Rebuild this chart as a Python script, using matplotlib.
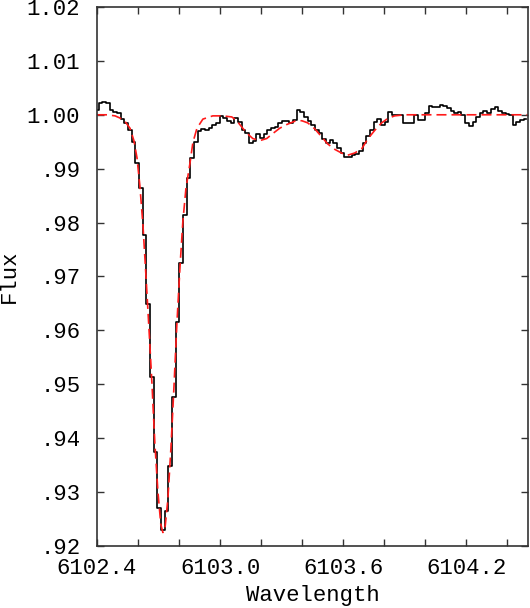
import matplotlib
matplotlib.use("Agg")
import matplotlib.pyplot as plt
from matplotlib.ticker import MultipleLocator

plt.rcParams['font.family'] = ['Liberation Mono', 'DejaVu Sans Mono']

# observed spectrum (bin centres, Angstrom) and normalised flux
wave = [6102.399, 6102.417, 6102.435, 6102.453, 6102.471, 6102.489, 6102.506, 6102.524,
        6102.542, 6102.560, 6102.578, 6102.596, 6102.614, 6102.631, 6102.649, 6102.667,
        6102.685, 6102.703, 6102.721, 6102.739, 6102.756, 6102.774, 6102.792, 6102.810,
        6102.828, 6102.846, 6102.864, 6102.881, 6102.899, 6102.917, 6102.935, 6102.953,
        6102.971, 6102.989, 6103.006, 6103.024, 6103.042, 6103.060, 6103.078, 6103.096,
        6103.114, 6103.131, 6103.149, 6103.167, 6103.185, 6103.203, 6103.221, 6103.239,
        6103.257, 6103.274, 6103.292, 6103.310, 6103.328, 6103.346, 6103.364, 6103.382,
        6103.399, 6103.417, 6103.435, 6103.453, 6103.471, 6103.489, 6103.507, 6103.524,
        6103.542, 6103.560, 6103.578, 6103.596, 6103.614, 6103.632, 6103.649, 6103.667,
        6103.685, 6103.703, 6103.721, 6103.739, 6103.757, 6103.774, 6103.792, 6103.810,
        6103.828, 6103.846, 6103.864, 6103.882, 6103.899, 6103.917, 6103.935, 6103.953,
        6103.971, 6103.989, 6104.007, 6104.024, 6104.042, 6104.060, 6104.078, 6104.096,
        6104.114, 6104.132, 6104.149, 6104.167, 6104.185, 6104.203, 6104.221, 6104.239,
        6104.257, 6104.274, 6104.292, 6104.310, 6104.328, 6104.346, 6104.364, 6104.382,
        6104.400, 6104.417, 6104.435, 6104.453, 6104.471, 6104.489]
flux = [1.0009, 1.0021, 1.0024, 1.0022, 1.0009, 1.0005, 1.0003, 0.9993,
        0.9984, 0.9972, 0.9950, 0.9910, 0.9864, 0.9777, 0.9649, 0.9514,
        0.9375, 0.9270, 0.9230, 0.9265, 0.9349, 0.9476, 0.9616, 0.9725,
        0.9814, 0.9882, 0.9919, 0.9950, 0.9969, 0.9973, 0.9971, 0.9975,
        0.9981, 0.9985, 0.9997, 0.9994, 0.9988, 0.9985, 0.9994, 0.9986,
        0.9972, 0.9966, 0.9948, 0.9951, 0.9964, 0.9957, 0.9964, 0.9971,
        0.9975, 0.9978, 0.9985, 0.9989, 0.9989, 0.9985, 0.9990, 1.0009,
        1.0005, 0.9995, 0.9988, 0.9981, 0.9971, 0.9966, 0.9956, 0.9948,
        0.9953, 0.9947, 0.9938, 0.9930, 0.9922, 0.9921, 0.9925, 0.9928,
        0.9933, 0.9947, 0.9960, 0.9972, 0.9987, 0.9992, 0.9981, 0.9987,
        1.0006, 1.0000, 0.9999, 0.9999, 0.9984, 0.9984, 0.9984, 1.0000,
        0.9990, 0.9990, 1.0003, 1.0016, 1.0014, 1.0014, 1.0018, 1.0016,
        1.0012, 1.0007, 1.0003, 1.0006, 0.9999, 0.9984, 0.9979, 0.9987,
        0.9995, 1.0003, 1.0007, 1.0003, 1.0010, 1.0014, 1.0007, 1.0003,
        1.0001, 0.9999, 0.9981, 0.9987, 0.9990, 0.9992]

# synthetic fit (red dashed)
model_wave = [6102.400, 6102.449, 6102.488, 6102.512, 6102.536, 6102.561, 6102.580, 6102.595,
              6102.609, 6102.624, 6102.638, 6102.653, 6102.668, 6102.682, 6102.697, 6102.711,
              6102.721, 6102.731, 6102.745, 6102.760, 6102.775, 6102.789, 6102.804, 6102.818,
              6102.833, 6102.853, 6102.867, 6102.887, 6102.916, 6102.964, 6103.013, 6103.057,
              6103.081, 6103.106, 6103.130, 6103.159, 6103.193, 6103.227, 6103.256, 6103.290,
              6103.325, 6103.363, 6103.398, 6103.427, 6103.461, 6103.495, 6103.524, 6103.558,
              6103.592, 6103.621, 6103.655, 6103.690, 6103.719, 6103.753, 6103.787, 6103.816,
              6103.850, 6103.899, 6104.497]
model_flux = [1.0000, 1.0000, 0.9998, 0.9994, 0.9988, 0.9975, 0.9952, 0.9920,
              0.9868, 0.9795, 0.9705, 0.9605, 0.9500, 0.9390, 0.9300, 0.9240,
              0.9225, 0.9232, 0.9285, 0.9380, 0.9495, 0.9610, 0.9715, 0.9800,
              0.9862, 0.9910, 0.9948, 0.9975, 0.9992, 0.9998, 0.9998, 0.9996,
              0.9989, 0.9977, 0.9966, 0.9956, 0.9952, 0.9956, 0.9965, 0.9975,
              0.9982, 0.9988, 0.9989, 0.9985, 0.9974, 0.9959, 0.9946, 0.9936,
              0.9929, 0.9925, 0.9929, 0.9937, 0.9955, 0.9971, 0.9985, 0.9993,
              0.9998, 1.0000, 1.0000]

yticks = [0.92, 0.93, 0.94, 0.95, 0.96, 0.97, 0.98, 0.99, 1.00, 1.01, 1.02]
ytick_labels = ['.92', '.93', '.94', '.95', '.96', '.97', '.98', '.99', '1.00', '1.01', '1.02']
xticks = [6102.4, 6103.0, 6103.6, 6104.2]
xtick_labels = ['6102.4', '6103.0', '6103.6', '6104.2']

fig = plt.figure(figsize=(5.30, 6.08), dpi=100)
ax = fig.add_axes([0.183, 0.102, 0.8132, 0.8865])

ax.step(wave, flux, where='mid', color='black', lw=1.2)
ax.plot(model_wave, model_flux, color='#ff1a1a', lw=1.2, ls=(0, (6, 3)))

ax.set_xlim(6102.4, 6104.5)
ax.set_ylim(0.92, 1.02)
ax.set_xticks(xticks)
ax.set_xticklabels(xtick_labels)
ax.xaxis.set_minor_locator(MultipleLocator(0.2))
ax.set_yticks(yticks)
ax.set_yticklabels(ytick_labels)

ax.tick_params(which='both', direction='in', top=True, right=True,
               length=5, width=1, color='#333333', labelsize=16, pad=12)
ax.tick_params(axis='x', pad=9)
for s in ax.spines.values():
    s.set_color('#333333')
    s.set_linewidth(1.2)

ax.set_xlabel('Wavelength', fontsize=16, labelpad=4)
ax.set_ylabel('Flux', fontsize=16, labelpad=5)

fig.savefig('out.png', dpi=100)
